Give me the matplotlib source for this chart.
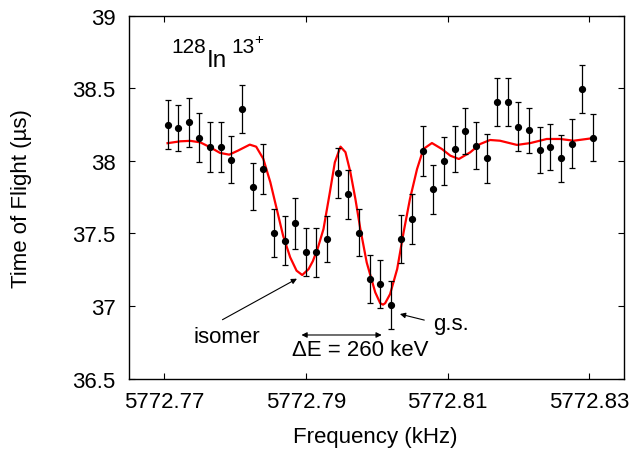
"""Time-of-flight resonance of 128In13+ with Ramsey fit."""

import matplotlib

matplotlib.use("Agg")
import matplotlib.pyplot as plt
from matplotlib.ticker import FixedLocator, FuncFormatter

plt.rcParams["font.family"] = ["Liberation Sans", "DejaVu Sans"]

# measured points (kHz, us)
freq = [
    5772.7705, 5772.7720, 5772.7735, 5772.7750, 5772.7765, 5772.7780, 5772.7795,
    5772.7810, 5772.7825, 5772.7840, 5772.7855, 5772.7870, 5772.7885, 5772.7900,
    5772.7915, 5772.7930, 5772.7945, 5772.7960, 5772.7975, 5772.7990, 5772.8005,
    5772.8020, 5772.8035, 5772.8050, 5772.8065, 5772.8080, 5772.8095, 5772.8110,
    5772.8125, 5772.8140, 5772.8155, 5772.8170, 5772.8185, 5772.8200, 5772.8215,
    5772.8230, 5772.8245, 5772.8260, 5772.8275, 5772.8290, 5772.8305,
]
tof = [
    38.249, 38.227, 38.266, 38.160, 38.094, 38.096, 38.008, 38.357, 37.822, 37.942,
    37.503, 37.450, 37.570, 37.371, 37.371, 37.462, 37.917, 37.770, 37.506, 37.185,
    37.154, 37.008, 37.462, 37.600, 38.068, 37.804, 37.999, 38.084, 38.204, 38.105,
    38.018, 38.408, 38.408, 38.236, 38.211, 38.073, 38.096, 38.018, 38.118, 38.495,
    38.160,
]
tof_err = [
    0.168, 0.160, 0.167, 0.168, 0.172, 0.170, 0.161, 0.167, 0.163, 0.172,
    0.163, 0.170, 0.175, 0.165, 0.169, 0.160, 0.170, 0.167, 0.163, 0.167,
    0.165, 0.163, 0.167, 0.170, 0.170, 0.167, 0.165, 0.158, 0.158, 0.161,
    0.167, 0.165, 0.165, 0.168, 0.156, 0.158, 0.160, 0.163, 0.170, 0.167,
    0.163,
]

# fitted curve
fit_freq = [
    5772.7705, 5772.7723, 5772.7737, 5772.7751, 5772.7765, 5772.7779, 5772.7792,
    5772.7804, 5772.7821, 5772.7830, 5772.7840, 5772.7850, 5772.7859, 5772.7868,
    5772.7878, 5772.7887, 5772.7895, 5772.7904, 5772.7910, 5772.7917, 5772.7925,
    5772.7934, 5772.7941, 5772.7949, 5772.7956, 5772.7963, 5772.7970, 5772.7977,
    5772.7986, 5772.7998, 5772.8005, 5772.8009, 5772.8012, 5772.8019, 5772.8029,
    5772.8038, 5772.8047, 5772.8057, 5772.8066, 5772.8078, 5772.8092, 5772.8104,
    5772.8116, 5772.8132, 5772.8146, 5772.8160, 5772.8174, 5772.8198, 5772.8217,
    5772.8240, 5772.8259, 5772.8278, 5772.8304,
]
fit_tof = [
    38.122, 38.135, 38.138, 38.128, 38.094, 38.055, 38.043,
    38.070, 38.112, 38.098, 38.015, 37.853, 37.669, 37.485,
    37.336, 37.244, 37.214, 37.255, 37.310, 37.400, 37.531,
    37.784, 37.990, 38.098, 38.060, 37.921, 37.738, 37.531,
    37.300, 37.095, 37.020, 37.010, 37.020, 37.083, 37.256,
    37.508, 37.738, 37.944, 38.082, 38.123, 38.082, 38.036,
    38.013, 38.059, 38.116, 38.144, 38.139, 38.110, 38.123,
    38.151, 38.151, 38.139, 38.156,
]

x_ticks = [5772.77, 5772.79, 5772.81, 5772.83]
y_ticks = [36.5, 37, 37.5, 38, 38.5, 39]

FS = 16


def main() -> None:
    fig = plt.figure(figsize=(6.36, 4.52), dpi=100)
    ax = fig.add_axes([129.3 / 636, 1 - 379.7 / 452, (624 - 129.3) / 636, (379.7 - 16.7) / 452])

    ax.plot(fit_freq, fit_tof, color="#ff0000", linewidth=1.6, zorder=2)
    ax.errorbar(freq, tof, yerr=tof_err, fmt="o", color="black", markersize=4.2,
                elinewidth=0.9, capsize=2.4, capthick=0.9, zorder=3)

    ax.set_xlim(5772.7651, 5772.8349)
    ax.set_ylim(36.5, 39)
    ax.xaxis.set_major_locator(FixedLocator(x_ticks))
    ax.yaxis.set_major_locator(FixedLocator(y_ticks))
    ax.xaxis.set_major_formatter(FuncFormatter(lambda v, _: f"{v:.2f}"))
    ax.yaxis.set_major_formatter(FuncFormatter(lambda v, _: f"{v:g}"))
    ax.tick_params(direction="in", length=4.5, width=0.8, top=True, right=True,
                   labelsize=FS)
    ax.tick_params(axis="x", pad=9)
    ax.tick_params(axis="y", pad=10)
    for spine in ax.spines.values():
        spine.set_linewidth(1.0)

    ax.set_xlabel("Frequency (kHz)", fontsize=FS)
    ax.set_ylabel("Time of Flight (µs)", fontsize=FS)
    ax.xaxis.set_label_coords(0.497, -0.13)
    ax.yaxis.set_label_coords(-0.197, 0.5)

    # 128In13+ with full-size superscripts
    ax.text(5772.7710, 38.748, "128", fontsize=15, ha="left", va="baseline")
    ax.text(5772.7760, 38.656, "In", fontsize=17.5, ha="left", va="baseline")
    ax.text(5772.7795, 38.748, "13", fontsize=15, ha="left", va="baseline")
    ax.text(5772.7828, 38.815, "+", fontsize=11, ha="left", va="baseline")

    arrow = dict(arrowstyle="-|>", color="black", lw=0.8, mutation_scale=8)
    ax.annotate("", xy=(5772.7891, 37.198), xytext=(5772.7779, 36.897), arrowprops=arrow)
    ax.text(5772.7788, 36.794, "isomer", fontsize=FS, ha="center", va="center")
    ax.annotate("", xy=(5772.8029, 36.95), xytext=(5772.8071, 36.899), arrowprops=arrow)
    ax.text(5772.8105, 36.877, "g.s.", fontsize=FS, ha="center", va="center")

    ax.annotate("", xy=(5772.7890, 36.801), xytext=(5772.8011, 36.801),
                arrowprops=dict(arrowstyle="<|-|>", color="black", lw=0.8, mutation_scale=8))
    ax.text(5772.7977, 36.698, "ΔE = 260 keV", fontsize=FS, ha="center", va="center")

    fig.savefig("out.png", dpi=100)
    plt.close(fig)


if __name__ == "__main__":
    main()
